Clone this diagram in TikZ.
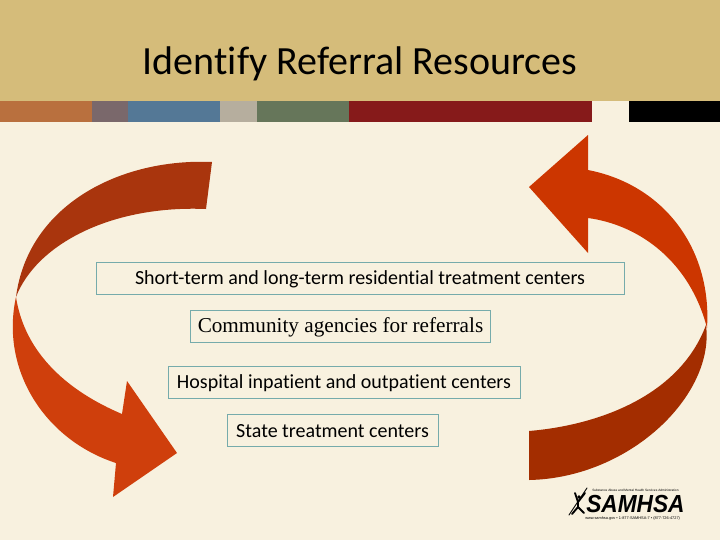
\documentclass[tikz,border=0pt]{standalone}
\usepackage{graphicx}
\usepackage{fontspec}
\setmainfont{Carlito}[Ligatures={NoCommon,TeX}]
\newfontfamily\logofont{Liberation Sans}
\newfontfamily\bodyserif{Liberation Serif}
\definecolor{pagebg}{HTML}{F8F1DF}
\definecolor{band}{HTML}{D5BC7A}
\definecolor{sOrange}{HTML}{B9703E}
\definecolor{sMauve}{HTML}{7A686B}
\definecolor{sBlue}{HTML}{547896}
\definecolor{sTaupe}{HTML}{B6AE9E}
\definecolor{sGreen}{HTML}{66765A}
\definecolor{sRed}{HTML}{861A1A}
\definecolor{boxline}{HTML}{76ABAB}
\definecolor{aDarkL}{HTML}{A9350D}
\definecolor{aLightL}{HTML}{CF3F0C}
\definecolor{aLightR}{HTML}{CC3600}
\definecolor{aDarkR}{HTML}{A32D00}
\tikzset{
  labelbox/.style={draw=boxline,line width=0.75pt,fill=pagebg},
  labeltext/.style={text=black,font=\fontsize{15pt}{18pt}\selectfont,inner sep=0pt,anchor=center},
}
\begin{document}
\begin{tikzpicture}[x=0.75pt,y=-0.75pt]
\useasboundingbox (0,0) rectangle (720,540);
\fill[pagebg] (0,0) rectangle (720,540);
\fill[band] (0,0) rectangle (720,100.5);
\fill[sOrange] (0,100.5) rectangle (92,122);
\fill[sMauve] (92,100.5) rectangle (128,122);
\fill[sBlue] (128,100.5) rectangle (220,122);
\fill[sTaupe] (220,100.5) rectangle (257,122);
\fill[sGreen] (257,100.5) rectangle (349,122);
\fill[sRed] (349,100.5) rectangle (592,122);
\fill[black] (629,100.5) rectangle (720,122);
\node[text=black,font=\fontsize{30pt}{36pt}\selectfont,inner sep=0pt] (title) at (360,64) {Identify Referral Resources};
% arrows
\fill[aDarkL] (212,162) .. controls (120,158) and (28,205) .. (16,297)
  .. controls (36,245) and (110,205) .. (206,209) -- cycle;
\fill[aLightL] (16,297) .. controls (0,370) and (45,440) .. (116,463)
  -- (113,497) -- (177,453) -- (127,381) -- (122,414)
  .. controls (70,392) and (25,355) .. (16,297) -- cycle;
\fill[aLightR] (707,328) .. controls (712,250) and (665,185) .. (588,170)
  -- (588,135) -- (529,187) -- (588,253) -- (588,218)
  .. controls (640,225) and (690,262) .. (707,328) -- cycle;
\fill[aDarkR] (529,431) .. controls (600,425) and (680,395) .. (706,325)
  .. controls (715,395) and (630,478) .. (529,480) -- cycle;
% boxes
\draw[labelbox] (96,262) rectangle (624,294);
\draw[labelbox] (190.5,310.5) rectangle (490.5,342.5);
\draw[labelbox] (168,366.5) rectangle (520,398.5);
\draw[labelbox] (227,414.5) rectangle (438,446.5);
\node[labeltext] (t1) at (360,279.5) {Short-term and long-term residential treatment centers};
\node[labeltext,font=\bodyserif\fontsize{15.9pt}{18pt}\selectfont] (t2) at (340.5,327) {Community agencies for referrals};
\node[labeltext] (t3) at (344,383.5) {Hospital inpatient and outpatient centers};
\node[labeltext] (t4) at (332.5,431) {State treatment centers};
% logo
\draw[black,line width=0.7pt,line cap=round] (569,515) -- (587,488);
\draw[black,line width=1.4pt,line cap=round,line join=round] (575,493) -- (578,502) -- (585,493);
\draw[black,line width=1.4pt,line cap=round,line join=round] (578,502) -- (578,507) -- (572,514);
\draw[black,line width=1.4pt,line cap=round] (578,507) -- (584,513);
\fill[black] (579,497) circle (1.8);
\node[inner sep=0pt,anchor=west,text=black,font=\logofont\bfseries\itshape\fontsize{18.5pt}{19pt}\selectfont] (samhsa) at (586,503.5) {\scalebox{0.92}[1]{SAMHSA}};
\node[inner sep=0pt,anchor=west,text=black,font=\logofont\fontsize{2.4pt}{3pt}\selectfont] (agency) at (592,490.5) {Substance Abuse and Mental Health Services Administration};
\node[inner sep=0pt,anchor=west,text=black,font=\logofont\fontsize{2.9pt}{3pt}\selectfont] (web) at (585,518.5) {www.samhsa.gov • 1-877-SAMHSA-7 • (877-726-4727)};
\end{tikzpicture}
\end{document}
